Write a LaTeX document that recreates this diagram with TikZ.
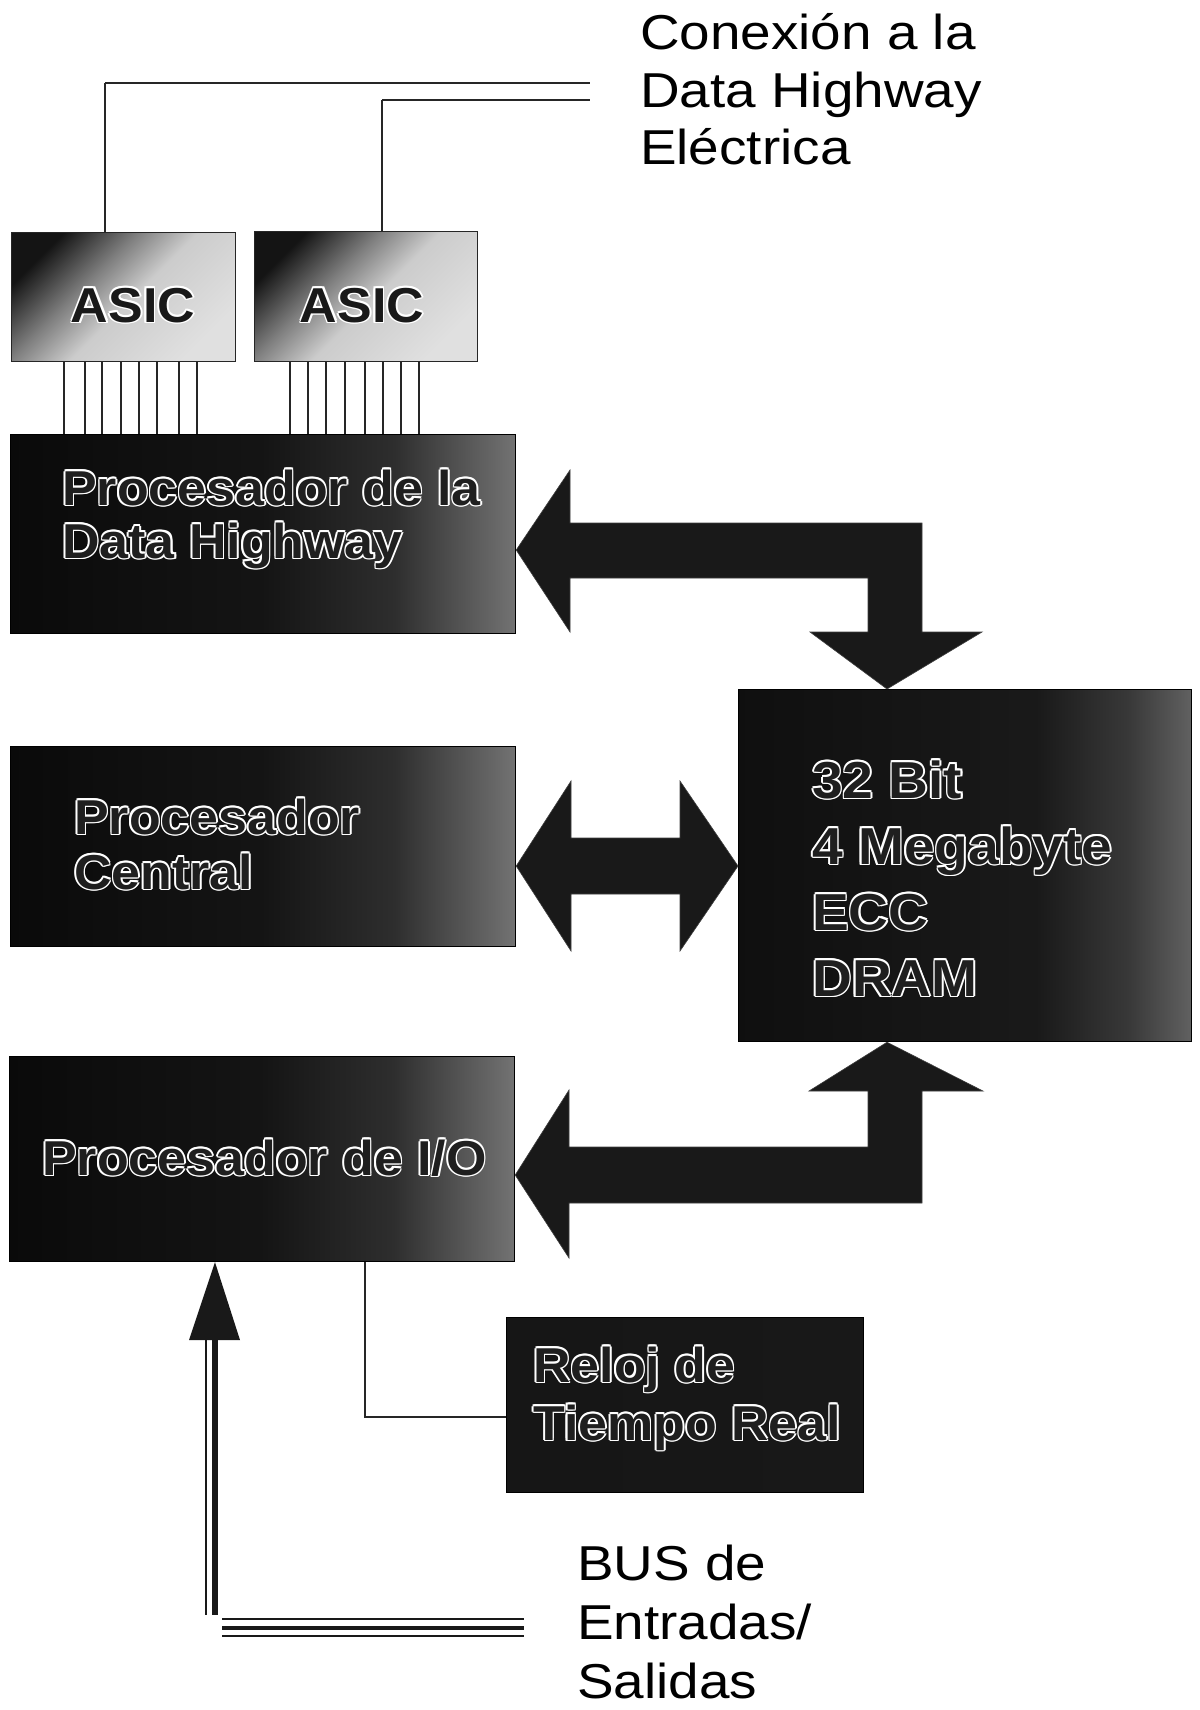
\documentclass[tikz,border=0pt]{standalone}
\usepackage{fontspec}
\setmainfont{Liberation Sans}
\newfontfamily\lblfont[FakeStretch=1.12]{Liberation Sans}
\newfontfamily\boxfont[FakeStretch=1.06]{Liberation Sans}
\usetikzlibrary{calc}

% outlined text: white halo, dark fill
\newcommand\olx[3]{\rlap{\raisebox{#2}{\hspace*{#1}\textcolor{white}{#3}}}}
\newcommand\outl[1]{\leavevmode\olx{1.6pt}{0pt}{#1}\olx{-1.6pt}{0pt}{#1}\olx{0pt}{1.6pt}{#1}\olx{0pt}{-1.6pt}{#1}\olx{1.13pt}{1.13pt}{#1}\olx{-1.13pt}{1.13pt}{#1}\olx{1.13pt}{-1.13pt}{#1}\olx{-1.13pt}{-1.13pt}{#1}#1}
% multi-line block whose baseline is the first line
\newcommand\mlines[2]{\vtop{\baselineskip=#1\lineskiplimit=-100pt\lineskip=0pt\relax\halign{##\hfil\cr#2\crcr}}}

\pgfdeclarehorizontalshading{darksh}{100bp}{color(0bp)=(black!96); color(25bp)=(black!96); color(50bp)=(black!92); color(63bp)=(black!82); color(75bp)=(black!55); color(100bp)=(black!55)}
\pgfdeclarehorizontalshading{ramsh}{100bp}{color(0bp)=(black!94); color(25bp)=(black!94); color(58bp)=(black!90); color(68bp)=(black!78); color(75bp)=(black!62); color(100bp)=(black!62)}
\pgfdeclarehorizontalshading{clocksh}{100bp}{color(0bp)=(black!92); color(100bp)=(black!90)}
\pgfdeclareverticalshading{asicsh}{100bp}{color(0bp)=(black!12); color(25bp)=(black!12); color(48bp)=(black!20); color(60bp)=(black!50); color(75bp)=(black!92); color(100bp)=(black!92)}

\begin{document}
\begin{tikzpicture}[x=1pt,y=-1pt,
  boxbase/.style={draw=black, line width=1.2pt, anchor=north west, inner sep=0pt},
  darkbox/.style={boxbase, shading=darksh},
  rambox/.style={boxbase, shading=ramsh},
  clockbox/.style={boxbase, shading=clocksh},
  asicbox/.style={boxbase, draw=black!85, shading=asicsh, shading angle=45},
  boxtxt/.style={anchor=base west, inner sep=0pt, text=black!88, font=\boxfont\bfseries\fontsize{49pt}{57pt}\selectfont},
  asictxt/.style={anchor=base, inner sep=0pt, text=black!90, font=\boxfont\bfseries\fontsize{49pt}{57pt}\selectfont},
  lbl/.style={anchor=base west, inner sep=0pt, text=black, font=\lblfont\fontsize{49pt}{57pt}\selectfont},
  wire/.style={line width=1.6pt, draw=black!85},
  hwire/.style={line width=2.6pt, draw=black!85},
  pin/.style={line width=1.3pt, draw=black!85},
  blockarrow/.style={fill=black!90, draw=black!75, line width=0.6pt, line join=miter}]

\useasboundingbox (0,0) rectangle (1199,1710);
\fill[white] (0,0) rectangle (1199,1710);

% ---------- boxes ----------
\node[asicbox, minimum width=224pt, minimum height=129pt] (asic1) at (11,232) {};
\node[asicbox, minimum width=223pt, minimum height=130pt] (asic2) at (254,231) {};
\node[darkbox, minimum width=505pt, minimum height=199pt] (dh) at (10,434) {};
\node[darkbox, minimum width=505pt, minimum height=200pt] (cp) at (10,746) {};
\node[rambox, minimum width=453pt, minimum height=352pt] (ram) at (738,689) {};
\node[darkbox, minimum width=505pt, minimum height=205pt] (io) at (9,1056) {};
\node[clockbox, minimum width=357pt, minimum height=175pt] (rt) at (506,1317) {};

% ---------- texts in boxes ----------
\node[asictxt] (asic1txt) at (133,322) {\outl{ASIC}};
\node[asictxt] (asic2txt) at (362,322) {\outl{ASIC}};
\node[boxtxt] (dhtxt) at (62,505) {\mlines{53pt}{\outl{Procesador de la}\cr\outl{Data Highway}}};
\node[boxtxt] (cptxt) at (74,834) {\mlines{55pt}{\outl{Procesador}\cr\outl{Central}}};
\node[boxtxt, font=\boxfont\bfseries\fontsize{52pt}{66pt}\selectfont] (ramtxt) at (812,798) {\mlines{66pt}{\outl{32 Bit}\cr\outl{4 Megabyte}\cr\outl{ECC}\cr\outl{DRAM}}};
\node[boxtxt] (iotxt) at (42,1175) {\outl{Procesador de I/O}};
\node[boxtxt] (rttxt) at (533,1382) {\mlines{58pt}{\outl{Reloj de}\cr\outl{Tiempo Real}}};

% ---------- outside labels ----------
\node[lbl] (dhwy) at (640,50) {\mlines{57.5pt}{Conexión a la\cr Data Highway\cr Eléctrica}};
\node[lbl] (bus) at (577,1580) {\mlines{59pt}{BUS de\cr Entradas/\cr Salidas}};

% ---------- data highway wires ----------
\coordinate (w1) at (105,83);
\coordinate (w2) at (382,100);
\coordinate (w1e) at (590,83);
\coordinate (w2e) at (590,100);
\draw[wire] (asic1.north -| w1) -- (w1);
\draw[hwire] (w1) -- (w1e);
\draw[wire] (asic2.north -| w2) -- (w2);
\draw[hwire] (w2) -- (w2e);

% ---------- ASIC pins ----------
\foreach \px in {64,85,102,121,139,157,179,197}{
  \coordinate (p) at (\px,0);
  \draw[pin] (asic1.south -| p) -- (dh.north -| p);
}
\foreach \px in {290,308,326,345,365,383,401,419}{
  \coordinate (p) at (\px,0);
  \draw[pin] (asic2.south -| p) -- (dh.north -| p);
}

% ---------- block arrows ----------
\coordinate (ya) at (0,550);
\coordinate (yb) at (0,866);
\coordinate (yc) at (0,1175);
\coordinate (xv) at (887,0);
% Data Highway processor <-> DRAM
\fill[blockarrow] (dh.east |- ya) -- (570,470) -- (570,523) -- (922,523) -- (922,632) -- (982,632)
  -- (ram.north -| xv) -- (810,632) -- (868,632) -- (868,578) -- (570,578) -- (570,632) -- cycle;
% Central processor <-> DRAM
\fill[blockarrow] (cp.east |- yb) -- (571,781) -- (571,838) -- (680,838) -- (680,781)
  -- (ram.west |- yb) -- (680,951) -- (680,894) -- (571,894) -- (571,951) -- cycle;
% I/O processor <-> DRAM
\fill[blockarrow] (io.east |- yc) -- (569,1090) -- (569,1147) -- (868,1147) -- (868,1091) -- (809,1091)
  -- (ram.south -| xv) -- (983,1091) -- (922,1091) -- (922,1203) -- (569,1203) -- (569,1258) -- cycle;

% ---------- clock connection ----------
\coordinate (xr) at (365,0);
\coordinate (yr) at (0,1417);
\draw[wire] (io.south -| xr) -- (xr |- yr) -- (rt.west |- yr);

% ---------- I/O bus arrow ----------
\coordinate (xu) at (215,0);
\fill[black!90] (io.south -| xu) -- (240,1340) -- (189,1340) -- cycle;
\coordinate (busend) at (215,1615);
\draw[line width=2.6pt, black!90] (206,1340) -- (206,1615);
\draw[line width=6.5pt, black!90] (xu |- 0,1340) -- (busend);
\coordinate (b1) at (222,1619);
\coordinate (b2) at (222,1628);
\coordinate (b3) at (222,1636);
\draw[line width=2.8pt, black!90] (b1) -- ++(302,0);
\draw[line width=4.5pt, black!90] (b2) -- ++(302,0);
\draw[line width=1.8pt, black!90] (b3) -- ++(302,0);
\end{tikzpicture}
\end{document}
